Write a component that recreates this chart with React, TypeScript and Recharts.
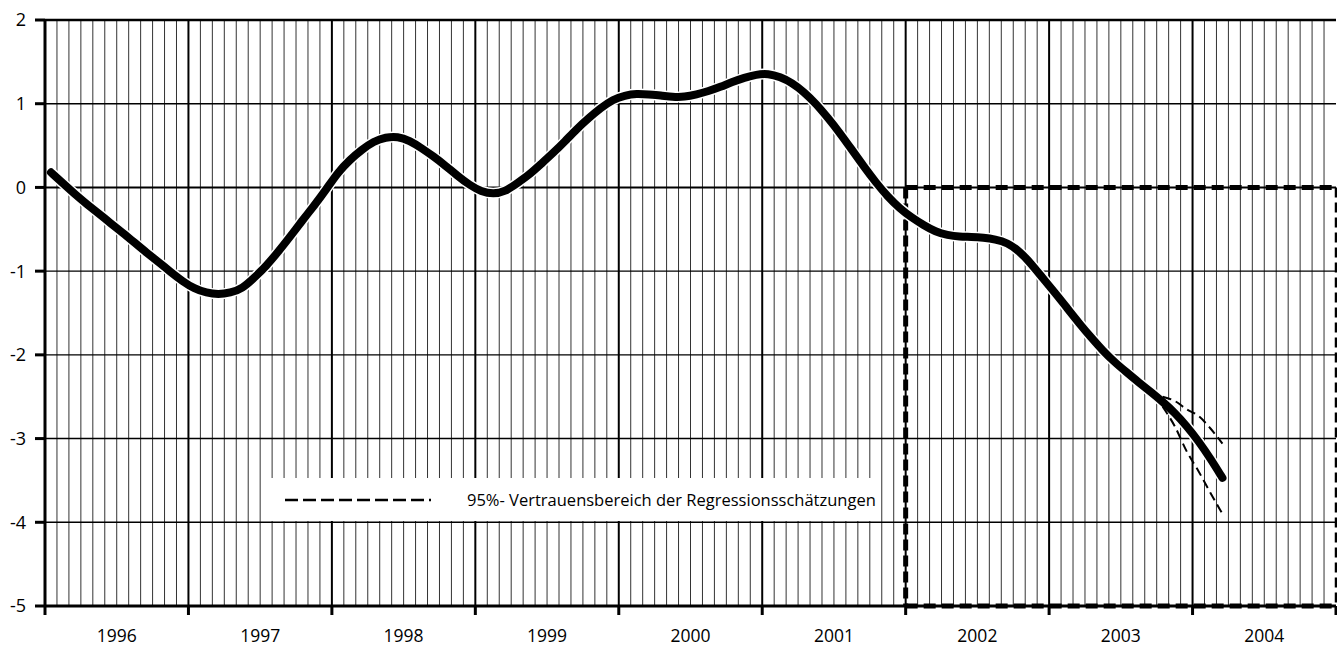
import React from "react";
import { LineChart, Line, XAxis, YAxis, ReferenceLine } from "recharts";

// months since Jan 1996 (0 .. 108), monthly points sit in the middle of each month
const yearLabels = ["1996", "1997", "1998", "1999", "2000", "2001", "2002", "2003", "2004"];
const yValues = [-5, -4, -3, -2, -1, 0, 1, 2];

// smoothed series, Jan 1996 .. Mar 2004
const trend = [
  0.18, 0.05, -0.08, -0.2, -0.31, -0.43, -0.54, -0.66, -0.78, -0.89, -1.01, -1.12,
  -1.21, -1.26, -1.28, -1.26, -1.21, -1.08, -0.94, -0.77, -0.59, -0.4, -0.22, -0.03,
  0.18, 0.33, 0.45, 0.55, 0.6, 0.61, 0.56, 0.47, 0.37, 0.26, 0.14, 0.03,
  -0.05, -0.08, -0.05, 0.05, 0.15, 0.28, 0.41, 0.55, 0.7, 0.83, 0.95, 1.05,
  1.1, 1.12, 1.11, 1.1, 1.08, 1.08, 1.11, 1.15, 1.2, 1.26, 1.31, 1.35,
  1.36, 1.32, 1.25, 1.14, 1.0, 0.83, 0.65, 0.45, 0.25, 0.06, -0.11, -0.25,
  -0.36, -0.45, -0.53, -0.57, -0.59, -0.59, -0.6, -0.62, -0.66, -0.76, -0.91, -1.09,
  -1.26, -1.44, -1.62, -1.79, -1.95, -2.09, -2.21, -2.33, -2.44, -2.56, -2.69, -2.85,
  -3.03, -3.24, -3.47,
];

// 95% band, Oct 2003 .. Mar 2004
const bandStart = 93;
const upperBand = [-2.5, -2.55, -2.65, -2.73, -2.88, -3.06];
const lowerBand = [-2.62, -2.85, -3.15, -3.39, -3.65, -3.9];

const data = trend.map((v, i) => ({
  m: i + 0.5,
  trend: v,
  upper: i >= bandStart ? upperBand[i - bandStart] : null,
  lower: i >= bandStart ? lowerBand[i - bandStart] : null,
}));

const monthLines = Array.from({ length: 108 }, (_, i) => i).filter((i) => i % 12 !== 0);
const yearLines = yearLabels.map((_, i) => i * 12).filter((v) => v > 0);
const xTicks = Array.from({ length: 109 }, (_, i) => i);

const FONT = "'Open Sans', sans-serif";

const XTick = (props: any) => {
  const { x, y, payload } = props;
  const v = payload.value as number;
  if (v % 12 === 0) {
    return <line x1={x} x2={x} y1={y} y2={y + 9} stroke="#000" strokeWidth={3} />;
  }
  if (v % 12 === 6) {
    return (
      <text x={x} y={y + 36} textAnchor="middle" fill="#000" fontSize={17.5} fontFamily={FONT}>
        {yearLabels[(v - 6) / 12]}
      </text>
    );
  }
  return null;
};

export default function App() {
  return (
    <div style={{ position: "absolute", left: 0, top: 0, width: 1337, height: 648, fontFamily: FONT, background: "#fff" }}>
      <LineChart width={1337} height={648} data={data} margin={{ top: 20, right: 1, bottom: 0, left: 0 }}>
        <XAxis
          dataKey="m"
          type="number"
          domain={[0, 108]}
          ticks={xTicks}
          interval={0}
          tickSize={0}
          tickMargin={0}
          tickLine={false}
          tick={<XTick />}
          height={42}
          axisLine={{ stroke: "#000", strokeWidth: 3 }}
        />
        <YAxis
          type="number"
          domain={[-5, 2]}
          ticks={yValues}
          interval={0}
          width={45}
          tickSize={10}
          tickMargin={9}
          tickLine={{ stroke: "#000", strokeWidth: 3 }}
          axisLine={{ stroke: "#000", strokeWidth: 3 }}
          tick={{ fill: "#000", fontSize: 18, fontFamily: FONT }}
        />
        {monthLines.map((m) => (
          <ReferenceLine key={"m" + m} x={m} stroke="#333" strokeWidth={1} />
        ))}
        {yearLines.map((m) => (
          <ReferenceLine key={"y" + m} x={m} stroke="#000" strokeWidth={2} />
        ))}
        {yValues
          .filter((v) => v !== -5)
          .map((v) => (
            <ReferenceLine key={"h" + v} y={v} stroke="#000" strokeWidth={v === 2 ? 2.5 : v === 0 ? 2 : 1.4} />
          ))}
        <ReferenceLine segment={[{ x: 72, y: 0 }, { x: 108, y: 0 }]} stroke="#000" strokeWidth={5} strokeDasharray="12 6" />
        <ReferenceLine segment={[{ x: 72, y: 0 }, { x: 72, y: -5 }]} stroke="#000" strokeWidth={5} strokeDasharray="11 5" />
        <ReferenceLine segment={[{ x: 72, y: -5 }, { x: 108, y: -5 }]} stroke="#000" strokeWidth={5} strokeDasharray="12 6" />
        <ReferenceLine segment={[{ x: 108, y: 0 }, { x: 108, y: -5 }]} stroke="#000" strokeWidth={2.5} strokeDasharray="10 5" />
        <Line dataKey="trend" stroke="#fff" strokeWidth={11} dot={false} activeDot={false} type="basis" isAnimationActive={false} strokeLinecap="round" />
        <Line dataKey="upper" stroke="#000" strokeWidth={2} strokeDasharray="9 5" dot={false} activeDot={false} type="monotone" isAnimationActive={false} />
        <Line dataKey="lower" stroke="#000" strokeWidth={2} strokeDasharray="9 5" dot={false} activeDot={false} type="monotone" isAnimationActive={false} />
        <Line dataKey="trend" stroke="#000" strokeWidth={8} dot={false} activeDot={false} type="basis" isAnimationActive={false} strokeLinecap="round" />
      </LineChart>
      <div
        style={{
          position: "absolute",
          left: 261,
          top: 478,
          width: 620,
          height: 43,
          background: "#fff",
          display: "flex",
          alignItems: "center",
        }}
      >
        <svg width={150} height={10} style={{ marginLeft: 24 }}>
          <line x1={0} x2={146} y1={5} y2={5} stroke="#000" strokeWidth={2.4} strokeDasharray="13 5" />
        </svg>
        <span style={{ marginLeft: 32, fontSize: 16.5, color: "#000", whiteSpace: "nowrap" }}>
          95%- Vertrauensbereich der Regressionsschätzungen
        </span>
      </div>
    </div>
  );
}
